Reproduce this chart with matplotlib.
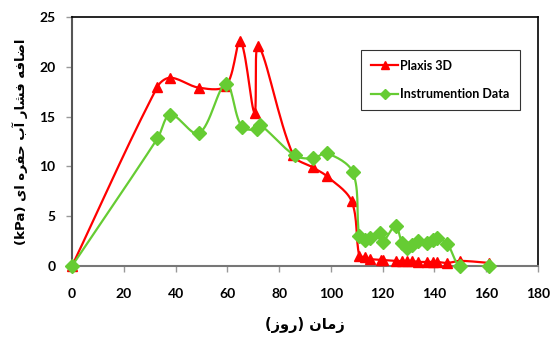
import numpy as np
import matplotlib.pyplot as plt

# داده ها
plaxis_x = [0, 33, 38, 49, 59.5, 65, 70.5, 72, 85.5, 93, 98.5, 108, 111, 113, 115, 119.5, 120, 125, 127.5, 129.5, 131.5, 133.5, 137, 139.5, 141, 145, 150, 161]
plaxis_y = [0, 18, 18.9, 17.9, 18.1, 22.6, 15.4, 22.1, 11.1, 9.9, 9.0, 6.5, 1.0, 0.9, 0.7, 0.6, 0.6, 0.5, 0.5, 0.5, 0.5, 0.4, 0.4, 0.4, 0.4, 0.3, 0.5, 0.3]

instr_x = [0, 33, 38, 49, 59.5, 65.5, 71.5, 72.5, 86, 93, 98.5, 108.5, 111, 113, 115, 119, 120, 125, 127.5, 129.5, 131.5, 133.5, 137, 139.5, 141, 145, 150, 161]
instr_y = [0, 12.8, 15.2, 13.3, 18.3, 14.0, 13.7, 14.2, 11.1, 10.8, 11.3, 9.4, 3.0, 2.6, 2.8, 3.3, 2.4, 4.0, 2.3, 1.8, 2.1, 2.5, 2.3, 2.6, 2.8, 2.2, 0.0, 0.0]

x_ticks = [0, 20, 40, 60, 80, 100, 120, 140, 160, 180]
y_ticks = [0, 5, 10, 15, 20, 25]

# متن فارسی (حروف شکل دار، ترتیب نمایشی)
y_label = "(kPa) " + "\uFBFC\uFE8D" + " " + "\uFEE9\uFEAE\uFED4\uFEA3" + " " + "\uFE8F\uFE81" + " " + "\uFEAD\uFE8E\uFEB8\uFED3" + " " + "\uFEEA\uFED3\uFE8E\uFEBF\uFE8D"
x_label = "(" + "\uFEAF\uFEED\uFEAD" + ") " + "\uFEE5\uFE8E\uFEE3\uFEAF"


def smooth(x, y, n=16, sx=2.59, sy=9.96):
    # خط صاف شده بزیه، مماس ها وزن دار با طول پاره خط (مختصات پیکسلی)
    P = np.column_stack([np.asarray(x, float) * sx, np.asarray(y, float) * sy])
    P = np.vstack([P[0], P, P[-1]])
    d = np.linalg.norm(np.diff(P, axis=0), axis=1)
    t = np.linspace(0, 1, n, endpoint=False)[:, None]
    out = []
    for i in range(1, len(P) - 2):
        p0, p1, p2, p3 = P[i - 1], P[i], P[i + 1], P[i + 2]
        d0, d1, d2 = d[i - 1], d[i], d[i + 1]
        T1 = (p2 - p0) * d1 / max(d0 + d1, 1e-9)
        T2 = (p3 - p1) * d1 / max(d1 + d2, 1e-9)
        c1 = p1 + T1 / 3
        c2 = p2 - T2 / 3
        b = (1 - t) ** 3 * p1 + 3 * (1 - t) ** 2 * t * c1 + 3 * (1 - t) * t ** 2 * c2 + t ** 3 * p2
        out.append(b)
    out.append(P[-2][None, :])
    out = np.vstack(out)
    return out[:, 0] / sx, out[:, 1] / sy


tick_font = ['Lato', 'DejaVu Sans']

fig = plt.figure(figsize=(5.5, 3.4), dpi=100)
ax = fig.add_axes([0.131, 0.218, 0.847, 0.732])

red = '#FF0000'
green = '#66CC33'

lx, ly = smooth(plaxis_x, plaxis_y)
ax.plot(lx, ly, color=red, lw=1.6, zorder=2)
ax.plot(plaxis_x, plaxis_y, ls='none', marker='^', color=red, ms=7, zorder=3, clip_on=False)
ax.plot([], [], color=red, lw=1.6, marker='^', ms=6, label='Plaxis 3D')

lx, ly = smooth(instr_x, instr_y)
ax.plot(lx, ly, color=green, lw=1.6, zorder=4)
ax.plot(instr_x, instr_y, ls='none', marker='D', color=green, ms=7, zorder=5, clip_on=False)
ax.plot([], [], color=green, lw=1.6, marker='D', ms=5, label='Instrumention Data')

ax.set_xlim(0, 180)
ax.set_ylim(0, 25)
ax.set_xticks(x_ticks)
ax.set_yticks(y_ticks)
for lab in ax.get_xticklabels() + ax.get_yticklabels():
    lab.set_family(tick_font)
    lab.set_fontweight('bold')
    lab.set_fontsize(10)

for s in ('top', 'right'):
    ax.spines[s].set_color('black')
    ax.spines[s].set_linewidth(1.2)
ax.spines['left'].set_color('#555555')
ax.spines['bottom'].set_color('#777777')
ax.spines['left'].set_linewidth(1.5)
ax.spines['bottom'].set_linewidth(1.5)
ax.tick_params(direction='out', length=4, color='#999999', width=1)
ax.tick_params(axis='x', pad=12)
ax.tick_params(axis='y', pad=8)

ax.set_ylabel(y_label, family=['DejaVu Sans'], fontweight='bold', fontsize=9.5, labelpad=8)
ax.set_xlabel(x_label, family=['DejaVu Sans'], fontweight='bold', fontsize=10.5, labelpad=12)

leg = ax.legend(loc='upper left', bbox_to_anchor=(0.62, 0.868), frameon=True, fancybox=False,
                edgecolor='black', handlelength=2.2, handletextpad=0.15, labelspacing=1.3,
                borderpad=0.8, borderaxespad=0, prop={'family': tick_font, 'weight': 'bold', 'size': 9})
leg.get_frame().set_linewidth(0.8)

fig.savefig('out.png', dpi=100)
